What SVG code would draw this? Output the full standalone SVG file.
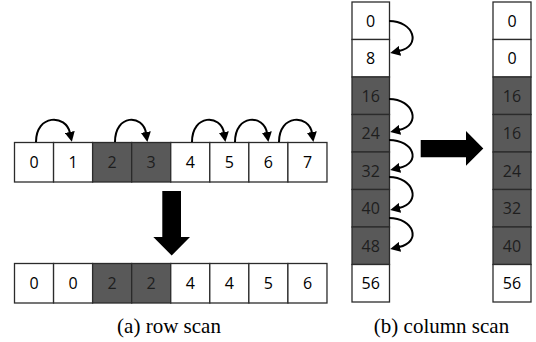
<svg xmlns="http://www.w3.org/2000/svg" width="536" height="342" viewBox="0 0 536 342">
<defs>
<style>
.w{fill:#ffffff;stroke:#2b2b2b;stroke-width:1.3}
.g{fill:#595959;stroke:#2b2b2b;stroke-width:1.3}
.t{font-family:"Open Sans","Liberation Sans",sans-serif;font-size:16px;text-anchor:middle;fill:#000}
.tg{font-family:"Open Sans","Liberation Sans",sans-serif;font-size:16px;text-anchor:middle;fill:#1e1e1e}
.cap{font-family:"Liberation Serif","Times New Roman",serif;font-size:21px;text-anchor:middle;fill:#000}
.arc{fill:none;stroke:#000;stroke-width:2;marker-end:url(#ah)}
.big{fill:#000}
</style>
<marker id="ah" markerUnits="userSpaceOnUse" markerWidth="10" markerHeight="10" viewBox="0 0 10 10" refX="1" refY="5" orient="auto">
<path d="M0,0 L10,5 L0,10 z" fill="#000"/>
</marker>
</defs>
<rect width="536" height="342" fill="#fff"/>

<g id="row-top">
<rect class="w" x="14.5" y="142.5" width="39.06" height="39.5"/><text class="t" x="34" y="168">0</text>
<rect class="w" x="53.56" y="142.5" width="39.06" height="39.5"/><text class="t" x="73.1" y="168">1</text>
<rect class="g" x="92.62" y="142.5" width="39.06" height="39.5"/><text class="tg" x="112.2" y="168">2</text>
<rect class="g" x="131.68" y="142.5" width="39.06" height="39.5"/><text class="tg" x="151.2" y="168">3</text>
<rect class="w" x="170.74" y="142.5" width="39.06" height="39.5"/><text class="t" x="190.3" y="168">4</text>
<rect class="w" x="209.8" y="142.5" width="39.06" height="39.5"/><text class="t" x="229.3" y="168">5</text>
<rect class="w" x="248.86" y="142.5" width="39.06" height="39.5"/><text class="t" x="268.4" y="168">6</text>
<rect class="w" x="287.92" y="142.5" width="39.06" height="39.5"/><text class="t" x="307.5" y="168">7</text>
</g>

<g id="row-bottom">
<rect class="w" x="14.5" y="263.5" width="39.06" height="39.5"/><text class="t" x="34" y="289">0</text>
<rect class="w" x="53.56" y="263.5" width="39.06" height="39.5"/><text class="t" x="73.1" y="289">0</text>
<rect class="g" x="92.62" y="263.5" width="39.06" height="39.5"/><text class="tg" x="112.2" y="289">2</text>
<rect class="g" x="131.68" y="263.5" width="39.06" height="39.5"/><text class="tg" x="151.2" y="289">2</text>
<rect class="w" x="170.74" y="263.5" width="39.06" height="39.5"/><text class="t" x="190.3" y="289">4</text>
<rect class="w" x="209.8" y="263.5" width="39.06" height="39.5"/><text class="t" x="229.3" y="289">4</text>
<rect class="w" x="248.86" y="263.5" width="39.06" height="39.5"/><text class="t" x="268.4" y="289">5</text>
<rect class="w" x="287.92" y="263.5" width="39.06" height="39.5"/><text class="t" x="307.5" y="289">6</text>
</g>

<g id="col-left">
<rect class="w" x="352" y="2" width="37.5" height="37.5"/><text class="t" x="370.7" y="26.5">0</text>
<rect class="w" x="352" y="39.5" width="37.5" height="37.5"/><text class="t" x="370.7" y="64">8</text>
<rect class="g" x="352" y="77" width="37.5" height="37.5"/><text class="tg" x="370.7" y="101.5">16</text>
<rect class="g" x="352" y="114.5" width="37.5" height="37.5"/><text class="tg" x="370.7" y="139">24</text>
<rect class="g" x="352" y="152" width="37.5" height="37.5"/><text class="tg" x="370.7" y="176.5">32</text>
<rect class="g" x="352" y="189.5" width="37.5" height="37.5"/><text class="tg" x="370.7" y="214">40</text>
<rect class="g" x="352" y="227" width="37.5" height="37.5"/><text class="tg" x="370.7" y="251.5">48</text>
<rect class="w" x="352" y="264.5" width="37.5" height="37.5"/><text class="t" x="370.7" y="289">56</text>
</g>

<g id="col-right">
<rect class="w" x="493" y="2" width="38" height="37.5"/><text class="t" x="512" y="26.5">0</text>
<rect class="w" x="493" y="39.5" width="38" height="37.5"/><text class="t" x="512" y="64">0</text>
<rect class="g" x="493" y="77" width="38" height="37.5"/><text class="tg" x="512" y="101.5">16</text>
<rect class="g" x="493" y="114.5" width="38" height="37.5"/><text class="tg" x="512" y="139">16</text>
<rect class="g" x="493" y="152" width="38" height="37.5"/><text class="tg" x="512" y="176.5">24</text>
<rect class="g" x="493" y="189.5" width="38" height="37.5"/><text class="tg" x="512" y="214">32</text>
<rect class="g" x="493" y="227" width="38" height="37.5"/><text class="tg" x="512" y="251.5">40</text>
<rect class="w" x="493" y="264.5" width="38" height="37.5"/><text class="t" x="512" y="289">56</text>
</g>

<g id="connectors">
<path class="arc" d="M36,142 C36,114 66,114 70,133"/>
<path class="arc" d="M115,142 C115,114 143,114 146,133"/>
<path class="arc" d="M192,142 C192,114 221,114 224,133"/>
<path class="arc" d="M235,142 C235,114 264,114 267,133"/>
<path class="arc" d="M279,142 C279,114 309,114 312,133"/>
<path class="arc" d="M389,21 C414,21 422,46 399,51"/>
<path class="arc" d="M389,99 C414,99 422,125 399,130"/>
<path class="arc" d="M389,140 C414,140 422,163 399,168"/>
<path class="arc" d="M389,177 C414,177 422,203 399,208"/>
<path class="arc" d="M389,218 C414,218 422,242 399,247"/>
<polygon class="big" points="162.3,191 181,191 181,237 190,237 171.7,255.5 153.3,237 162.3,237"/>
<polygon class="big" points="420.7,140 466,140 466,131 483.3,148.4 466,165.7 466,157.3 420.7,157.3"/>
</g>

<g id="captions">
<text class="cap" x="169" y="333">(a) row scan</text>
<text class="cap" x="441.5" y="333">(b) column scan</text>
</g>
</svg>
